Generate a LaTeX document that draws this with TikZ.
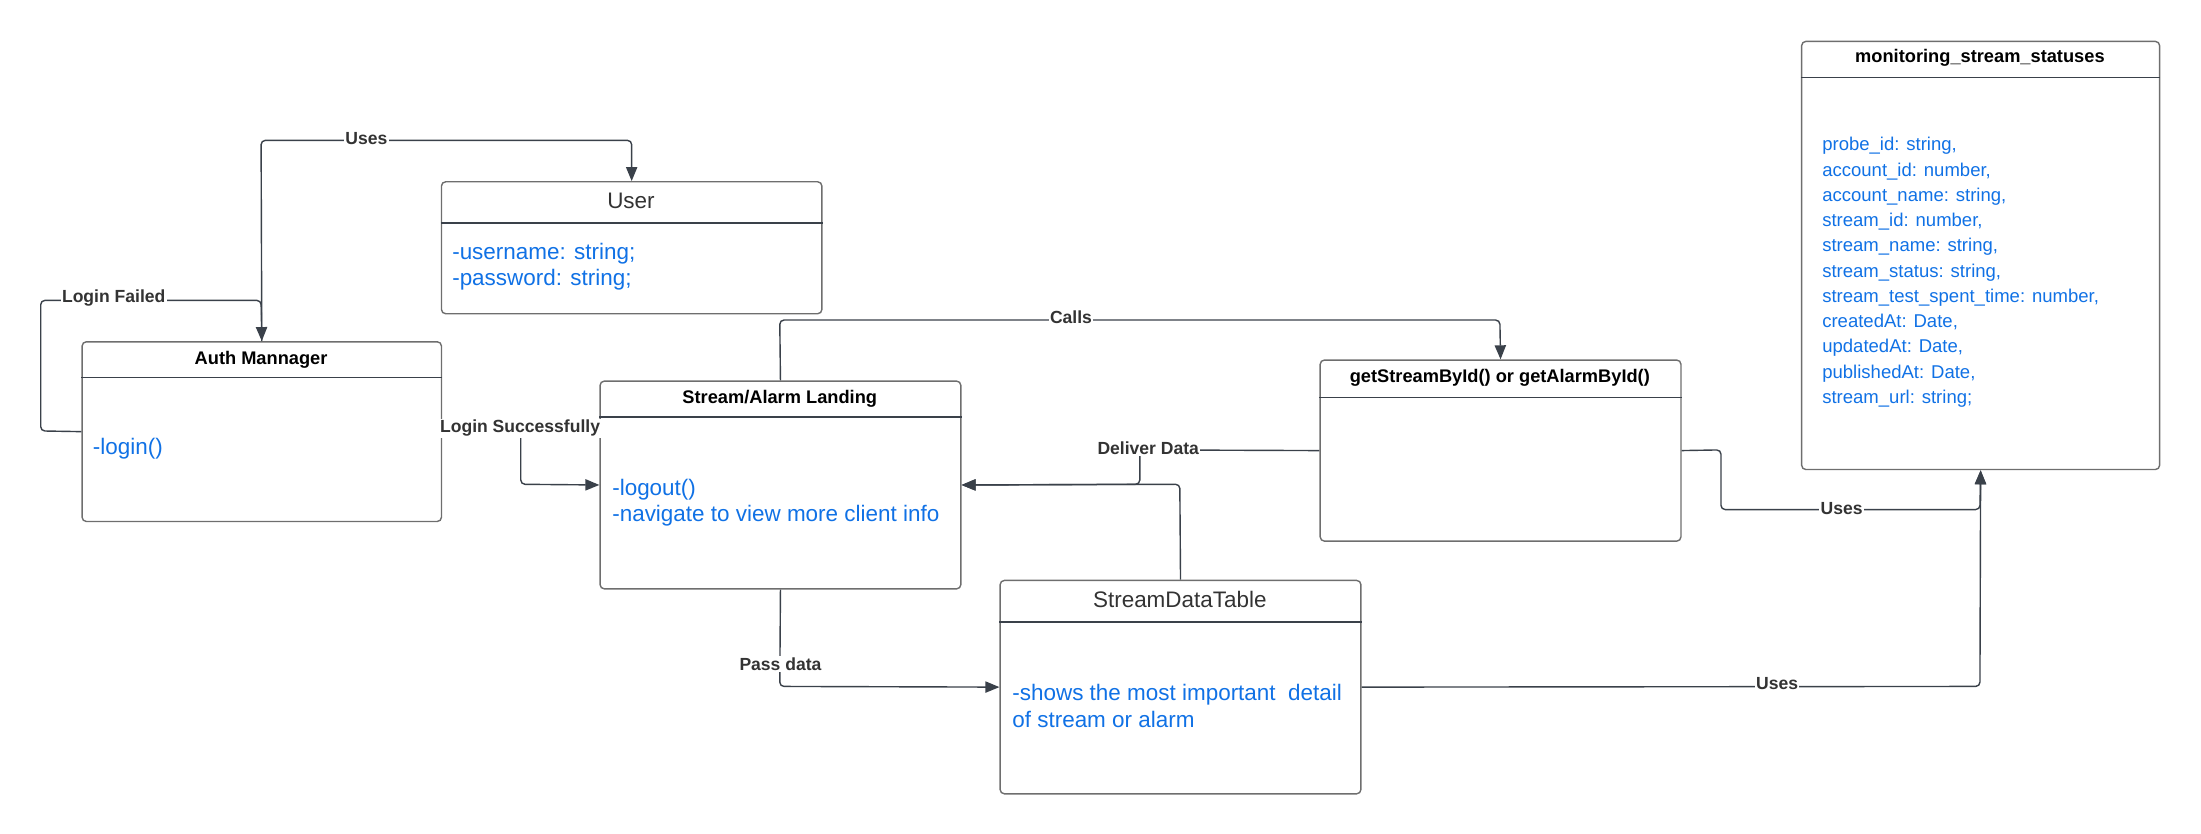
\documentclass[tikz,border=0pt]{standalone}
\usepackage{fontspec}
\setmainfont{Liberation Sans}
\usetikzlibrary{arrows.meta}
\definecolor{txtblue}{HTML}{1071E5}
\definecolor{linegray}{HTML}{3A414A}
\definecolor{boxgray}{HTML}{6E6E6E}
\definecolor{titlegray}{HTML}{333333}
\begin{document}
\begin{tikzpicture}[x=1pt,y=-1pt,
  umlbox/.style={draw=boxgray, line width=1pt, rounded corners=3pt, inner sep=0pt, anchor=north west},
  hline/.style={draw=linegray, line width=1pt},
  ttl/.style={font=\fontsize{13}{15}\selectfont\bfseries, text=black, inner sep=0pt},
  ttlplain/.style={font=\fontsize{16}{19}\selectfont, text=titlegray, inner sep=0pt},
  body/.style={font=\fontsize{16}{19}\selectfont, text=txtblue, align=left, anchor=west, inner sep=0pt},
  smallbody/.style={font=\fontsize{13.2}{18}\selectfont, text=txtblue, align=left, anchor=west, inner sep=0pt},
  conn/.style={draw=linegray, line width=1pt, rounded corners=3pt},
  arr/.style={-{Triangle[length=10pt,width=8pt]}},
  lbl/.style={font=\fontsize{12.5}{14}\selectfont\bfseries, text=titlegray, fill=white, inner sep=1pt}
]
\useasboundingbox (0,0) rectangle (1568,594);

% ---------- boxes ----------
\node[umlbox, minimum width=256pt, minimum height=128pt] (auth) at (58,243) {};
\draw[hline] ([yshift=-26pt]auth.north west) -- ([yshift=-26pt]auth.north east);
\node[ttl] (authT) at (186,256) {Auth Mannager};
\node[body] (authB) at (66,320) {-login()};

\node[umlbox, minimum width=271pt, minimum height=94pt] (user) at (314,129) {};
\draw[hline] ([yshift=-30pt]user.north west) -- ([yshift=-30pt]user.north east);
\node[ttlplain] (userT) at (449.5,143) {User};
\node[body] (userB) at (322,190) {-username: string;\\-password: string;};

\node[umlbox, minimum width=257pt, minimum height=148pt] (land) at (427,271) {};
\draw[hline] ([yshift=-26pt]land.north west) -- ([yshift=-26pt]land.north east);
\node[ttl] (landT) at (555.5,284) {Stream/Alarm Landing};
\node[body] (landB) at (436,358) {-logout()\\-navigate to view more client info};

\node[umlbox, minimum width=257pt, minimum height=129pt] (gsb) at (940,256) {};
\draw[hline] ([yshift=-27pt]gsb.north west) -- ([yshift=-27pt]gsb.north east);
\node[ttl] (gsbT) at (1068.5,269.5) {getStreamById() or getAlarmById()};

\node[umlbox, minimum width=257pt, minimum height=152pt] (sdt) at (712,413) {};
\draw[hline] ([yshift=-30pt]sdt.north west) -- ([yshift=-30pt]sdt.north east);
\node[ttlplain] (sdtT) at (840.5,427) {StreamDataTable};
\node[body] (sdtB) at (721,503) {-shows the most important\ \ detail\\of stream or alarm};

\node[umlbox, minimum width=255pt, minimum height=305pt] (mon) at (1283,29) {};
\draw[hline] ([yshift=-26pt]mon.north west) -- ([yshift=-26pt]mon.north east);
\node[ttl] (monT) at (1410.5,41) {monitoring\_stream\_statuses};
\node[smallbody] (monB) at (1298,194) {probe\_id: string,\\account\_id: number,\\account\_name: string,\\stream\_id: number,\\stream\_name: string,\\stream\_status: string,\\stream\_test\_spent\_time: number,\\createdAt: Date,\\updatedAt: Date,\\publishedAt: Date,\\stream\_url: string;};

% ---------- connectors ----------
% Auth -> User (Uses)
\draw[conn,arr] (auth.north) -- (186,100) -- (user.north |- 0,100) -- (user.north);
\node[lbl] (lUses1) at (261,99) {Uses};

% Login Failed loop
\draw[conn,arr] (auth.west) -- (29,307) -- (29,214) -- (186,214) -- (auth.north);
\node[lbl] (lFail) at (81,212) {Login Failed};

% Login Successfully
\draw[conn,arr] (auth.east) -- (371,307) -- (371,345) -- (land.west);
\node[lbl] (lSucc) at (370.5,305) {Login Successfully};

% Calls
\draw[conn,arr] (land.north) -- (555.5,228) -- (1068.5,228) -- (gsb.north);
\node[lbl] (lCalls) at (763,226) {Calls};

% Deliver Data
\draw[conn,arr] (gsb.west) -- (812,320.5) -- (812,345) -- (land.east);
\node[lbl] (lDeliver) at (818,319) {Deliver Data};

% StreamDataTable -> Landing
\draw[conn,arr] (sdt.north) -- (840.5,345) -- (land.east);

% Pass data
\draw[conn,arr] (land.south) -- (555.5,489) -- (sdt.west);
\node[lbl] (lPass) at (556,473) {Pass data};

% getStreamById -> monitoring (Uses)
\draw[conn,arr] (gsb.east) -- (1226,320.5) -- (1226,363) -- (1410.5,363) -- (mon.south);
\node[lbl] (lUses2) at (1312,362) {Uses};

% StreamDataTable -> monitoring (Uses)
\draw[conn,arr] (sdt.east) -- (1410.5,489) -- (mon.south);
\node[lbl] (lUses3) at (1266,487) {Uses};
\end{tikzpicture}
\end{document}
